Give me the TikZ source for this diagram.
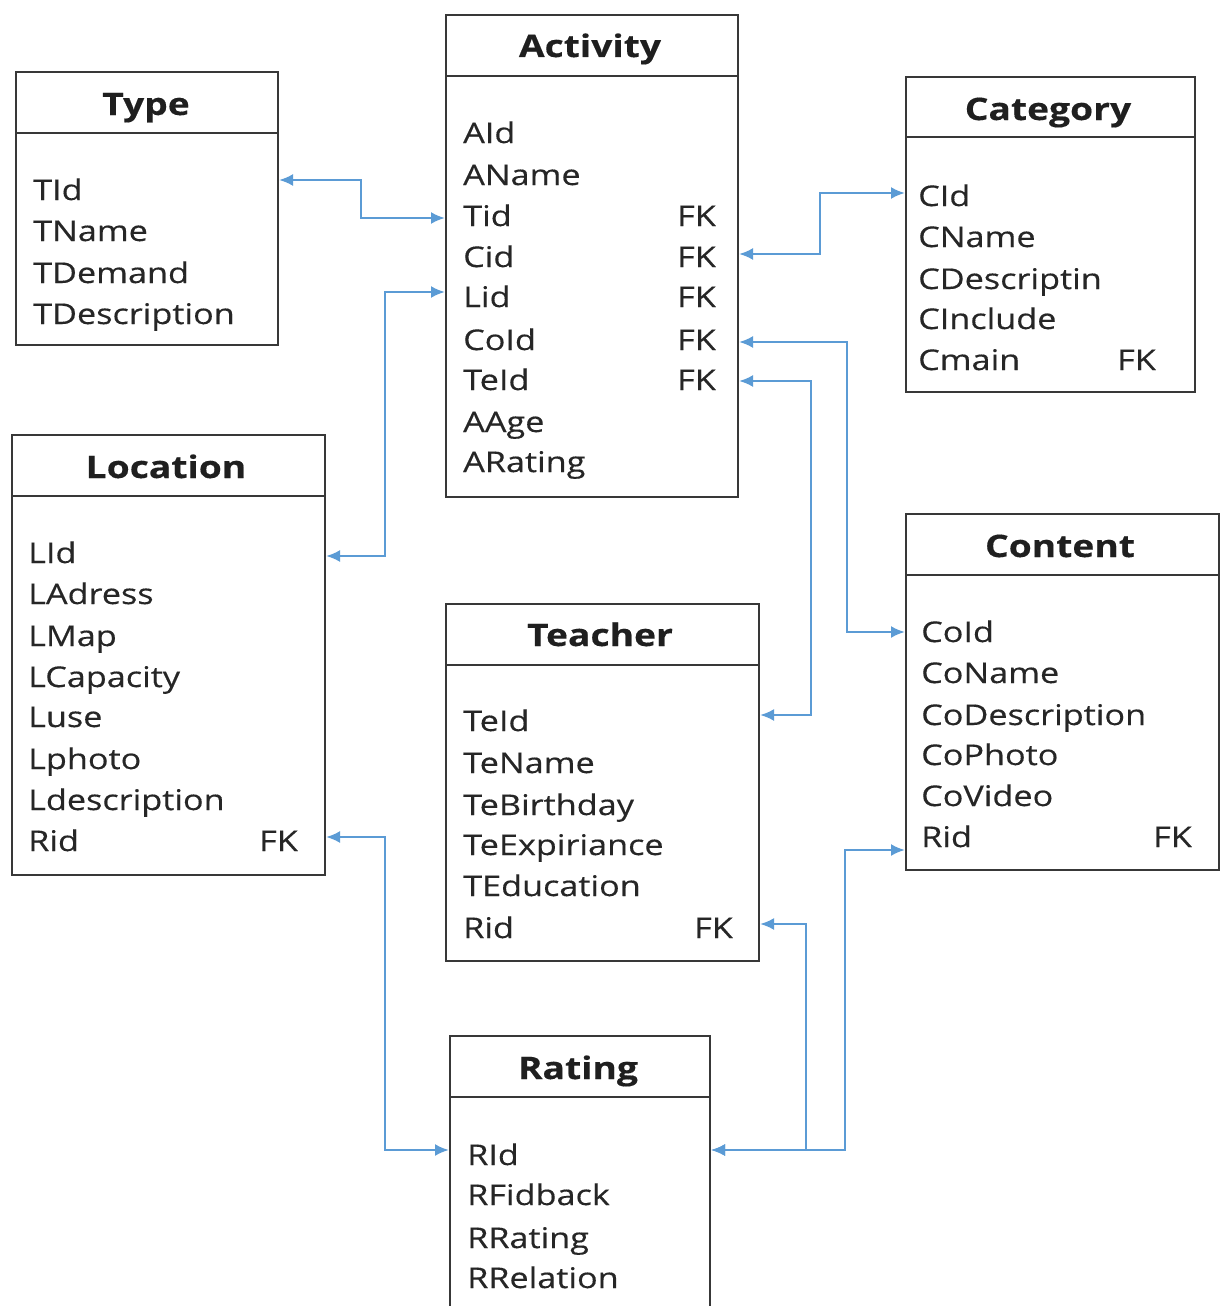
\documentclass[tikz,border=0pt]{standalone}
\usepackage{fontspec}
\setmainfont[FakeStretch=1.2, FakeBold=0.35]{Open Sans}
\usetikzlibrary{arrows.meta}
\definecolor{link}{HTML}{5B9BD5}
\definecolor{frame}{HTML}{383838}

\tikzset{
  entity/.style={draw=frame, line width=2pt, anchor=north west, inner sep=0pt, fill=white},
  ttl/.style={font=\bfseries\fontsize{31}{31}\selectfont, anchor=base, inner sep=0pt, text=black!88},
  fld/.style={font=\fontsize{28.5}{28.5}\selectfont, anchor=base west, inner sep=0pt, text=black!85},
  fk/.style={font=\fontsize{28.5}{28.5}\selectfont, anchor=base east, inner sep=0pt, text=black!85},
  rel/.style={draw=link, line width=2.4pt, {Latex[length=14pt,width=12pt]}-{Latex[length=14pt,width=12pt]}},
}

% \entbox{name}{x1}{y1}{x2}{y2}{header y}{title x}{title baseline}{title}
\newcommand\entbox[9]{%
  \node[entity, minimum width={(#4-#2)*1pt}, minimum height={(#5-#3)*1pt}] (#1) at (#2,#3) {};
  \draw[frame, line width=2pt] (#2,#6) -- (#4,#6);
  \node[ttl] (#1-title) at (#7,#8) {#9};
}

\begin{document}
\begin{tikzpicture}[x=1pt, y=-1pt]
\clip (0,0) rectangle (1220,1306);
\fill[white] (0,0) rectangle (1220,1306);

% tables
\entbox{type}{15}{71}{277}{344}{133}{146}{115}{Type}
\entbox{act}{445}{14}{737}{496}{76}{590}{57}{Activity}
\entbox{cat}{905}{76}{1194}{391}{137}{1048}{120}{Category}
\entbox{loc}{11}{434}{324}{874}{496}{166}{478}{Location}
\entbox{con}{905}{513}{1218}{869}{575}{1060}{557}{Content}
\entbox{tea}{445}{603}{758}{960}{665}{600}{646}{Teacher}
\entbox{rat}{449}{1035}{709}{1340}{1097}{578}{1079}{Rating}

% Type fields
\node[fld] (t1) at (33,200) {TId};
\node[fld] (t2) at (33,241) {TName};
\node[fld] (t3) at (33,283) {TDemand};
\node[fld] (t4) at (33,324) {TDescription};

% Activity fields
\node[fld] (a1) at (463,143) {AId};
\node[fld] (a2) at (463,185) {AName};
\node[fld] (a3) at (463,226) {Tid};
\node[fld] (a4) at (463,267) {Cid};
\node[fld] (a5) at (463,307) {Lid};
\node[fld] (a6) at (463,350) {CoId};
\node[fld] (a7) at (463,390) {TeId};
\node[fld] (a8) at (463,432) {AAge};
\node[fld] (a9) at (463,472) {ARating};
\node[fk] (a3k) at (716,226) {FK};
\node[fk] (a4k) at (716,267) {FK};
\node[fk] (a5k) at (716,307) {FK};
\node[fk] (a6k) at (716,350) {FK};
\node[fk] (a7k) at (716,390) {FK};

% Category fields
\node[fld] (c1) at (918,206) {CId};
\node[fld] (c2) at (918,247) {CName};
\node[fld] (c3) at (918,289) {CDescriptin};
\node[fld] (c4) at (918,329) {CInclude};
\node[fld] (c5) at (918,370) {Cmain};
\node[fk] (c5k) at (1156,370) {FK};

% Location fields
\node[fld] (l1) at (28,563) {LId};
\node[fld] (l2) at (28,604) {LAdress};
\node[fld] (l3) at (28,646) {LMap};
\node[fld] (l4) at (28,687) {LCapacity};
\node[fld] (l5) at (28,727) {Luse};
\node[fld] (l6) at (28,769) {Lphoto};
\node[fld] (l7) at (28,810) {Ldescription};
\node[fld] (l8) at (28,851) {Rid};
\node[fk] (l8k) at (298,851) {FK};

% Content fields
\node[fld] (o1) at (921,642) {CoId};
\node[fld] (o2) at (921,683) {CoName};
\node[fld] (o3) at (921,725) {CoDescription};
\node[fld] (o4) at (921,765) {CoPhoto};
\node[fld] (o5) at (921,806) {CoVideo};
\node[fld] (o6) at (921,847) {Rid};
\node[fk] (o6k) at (1192,847) {FK};

% Teacher fields
\node[fld] (e1) at (463,731) {TeId};
\node[fld] (e2) at (463,773) {TeName};
\node[fld] (e3) at (463,815) {TeBirthday};
\node[fld] (e4) at (463,855) {TeExpiriance};
\node[fld] (e5) at (463,896) {TEducation};
\node[fld] (e6) at (463,938) {Rid};
\node[fk] (e6k) at (733,938) {FK};

% Rating fields
\node[fld] (r1) at (467,1165) {RId};
\node[fld] (r2) at (467,1205) {RFidback};
\node[fld] (r3) at (467,1248) {RRating};
\node[fld] (r4) at (467,1288) {RRelation};

% bend points of the relations
\coordinate (k1) at (361,180);  \coordinate (k1b) at (361,218);
\coordinate (k2) at (820,254);  \coordinate (k2b) at (820,193);
\coordinate (k3) at (385,556);  \coordinate (k3b) at (385,292);
\coordinate (k4) at (847,342);  \coordinate (k4b) at (847,632);
\coordinate (k5) at (811,381);  \coordinate (k5b) at (811,715);
\coordinate (k6) at (385,837);  \coordinate (k6b) at (385,1150);
\coordinate (k7) at (806,924);  \coordinate (k7b) at (806,1150);
\coordinate (k8) at (845,850);  \coordinate (k8b) at (845,1150);

% relations
\draw[rel] (type.east |- k1) -- (k1) -- (k1b) -- (act.west |- k1b);
\draw[rel] (act.east |- k2) -- (k2) -- (k2b) -- (cat.west |- k2b);
\draw[rel] (loc.east |- k3) -- (k3) -- (k3b) -- (act.west |- k3b);
\draw[rel] (act.east |- k4) -- (k4) -- (k4b) -- (con.west |- k4b);
\draw[rel] (act.east |- k5) -- (k5) -- (k5b) -- (tea.east |- k5b);
\draw[rel] (loc.east |- k6) -- (k6) -- (k6b) -- (rat.west |- k6b);
\draw[rel] (tea.east |- k7) -- (k7) -- (k7b) -- (rat.east |- k7b);
\draw[rel] (con.west |- k8) -- (k8) -- (k8b) -- (rat.east |- k8b);
\end{tikzpicture}
\end{document}
